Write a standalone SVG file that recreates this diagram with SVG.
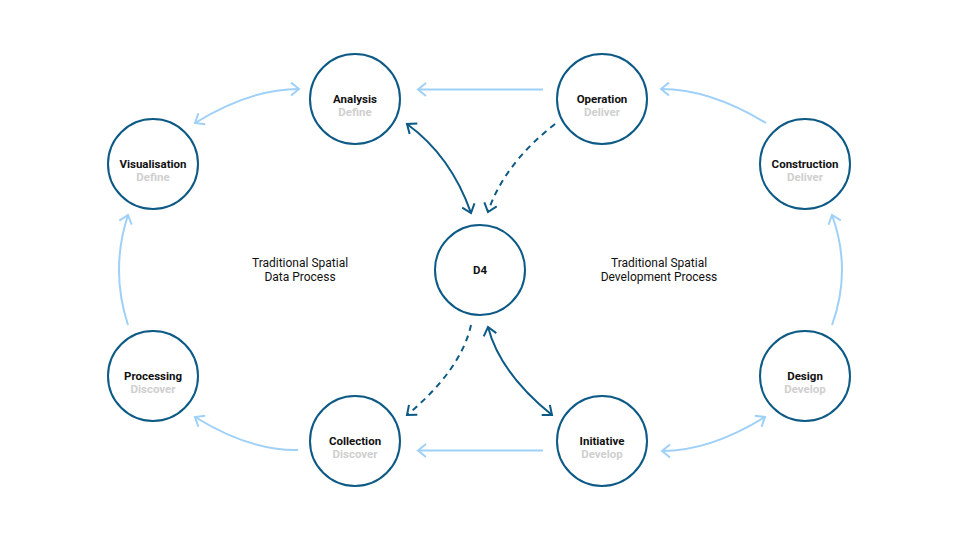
<svg xmlns="http://www.w3.org/2000/svg" width="960" height="540" viewBox="0 0 960 540">
<defs>
<style>
.node{fill:#fff;stroke:#0c5a85;stroke-width:2}
.t{font-family:Roboto,"Liberation Sans",sans-serif;font-weight:bold;font-size:11.5px;fill:#111;text-anchor:middle}
.s{font-family:Roboto,"Liberation Sans",sans-serif;font-weight:bold;font-size:11.5px;fill:#cfcfcf;text-anchor:middle}
.m{font-family:Roboto,"Liberation Sans",sans-serif;font-size:12px;fill:#111;text-anchor:middle}
.lt{fill:none;stroke:#9fd0f8;stroke-width:2}
.dk{fill:none;stroke:#0c5a85;stroke-width:2}
.dash{stroke-dasharray:6 5}
</style>
<marker id="al" viewBox="-11 -8 13 16" refX="0" refY="0" markerWidth="13" markerHeight="16" markerUnits="userSpaceOnUse" orient="auto-start-reverse">
<path d="M-8,-6.5 L0,0 L-8,6.5" fill="none" stroke="#9fd0f8" stroke-width="2"/>
</marker>
<marker id="ad" viewBox="-11 -8 13 16" refX="0" refY="0" markerWidth="13" markerHeight="16" markerUnits="userSpaceOnUse" orient="auto-start-reverse">
<path d="M-8,-6.5 L0,0 L-8,6.5" fill="none" stroke="#0c5a85" stroke-width="2"/>
</marker>
</defs>
<rect width="960" height="540" fill="#fff"/>
<g id="connectors">
<path class="lt" d="M195,123 Q250,89 299,89" marker-start="url(#al)" marker-end="url(#al)"/>
<path class="lt" d="M543,89.5 L418,89.5" marker-end="url(#al)"/>
<path class="lt" d="M766,123 Q710,89 661,89" marker-end="url(#al)"/>
<path class="lt" d="M832,325 Q852,270 832,215" marker-end="url(#al)"/>
<path class="lt" d="M765,417 Q710,451 662,451" marker-start="url(#al)" marker-end="url(#al)"/>
<path class="lt" d="M543,450.5 L418,450.5" marker-end="url(#al)"/>
<path class="lt" d="M298,450 Q250,451 195,417" marker-end="url(#al)"/>
<path class="lt" d="M128,325 Q110,270 128,215" marker-end="url(#al)"/>
<path class="dk" d="M407,124 Q451,156 471,213" marker-start="url(#ad)" marker-end="url(#ad)"/>
<path class="dk dash" d="M555,124 Q504,164 488,212" marker-end="url(#ad)"/>
<path class="dk dash" d="M471,325 Q461,370 407,415" marker-end="url(#ad)"/>
<path class="dk" d="M488,327 Q500,373 552,415" marker-start="url(#ad)" marker-end="url(#ad)"/>
</g>
<g id="analysis"><circle class="node" cx="355" cy="99" r="45"/><text class="t" x="355" y="103">Analysis</text><text class="s" x="355" y="115.5">Define</text></g>
<g id="operation"><circle class="node" cx="602" cy="99" r="45"/><text class="t" x="602" y="103">Operation</text><text class="s" x="602" y="115.5">Deliver</text></g>
<g id="visualisation"><circle class="node" cx="153" cy="164" r="45"/><text class="t" x="153" y="168">Visualisation</text><text class="s" x="153" y="180.5">Define</text></g>
<g id="construction"><circle class="node" cx="805" cy="164" r="45"/><text class="t" x="805" y="168">Construction</text><text class="s" x="805" y="180.5">Deliver</text></g>
<g id="d4"><circle class="node" cx="480" cy="270" r="45"/><text class="t" x="480" y="274">D4</text></g>
<g id="processing"><circle class="node" cx="153" cy="376" r="45"/><text class="t" x="153" y="380">Processing</text><text class="s" x="153" y="392.5">Discover</text></g>
<g id="design"><circle class="node" cx="805" cy="376" r="45"/><text class="t" x="805" y="380">Design</text><text class="s" x="805" y="392.5">Develop</text></g>
<g id="collection"><circle class="node" cx="355" cy="441" r="45"/><text class="t" x="355" y="445">Collection</text><text class="s" x="355" y="457.5">Discover</text></g>
<g id="initiative"><circle class="node" cx="602" cy="441" r="45"/><text class="t" x="602" y="445">Initiative</text><text class="s" x="602" y="457.5">Develop</text></g>
<g id="labels">
<text class="m" x="300" y="267">Traditional Spatial</text>
<text class="m" x="300" y="281">Data Process</text>
<text class="m" x="659" y="267">Traditional Spatial</text>
<text class="m" x="659" y="281">Development Process</text>
</g>
</svg>
